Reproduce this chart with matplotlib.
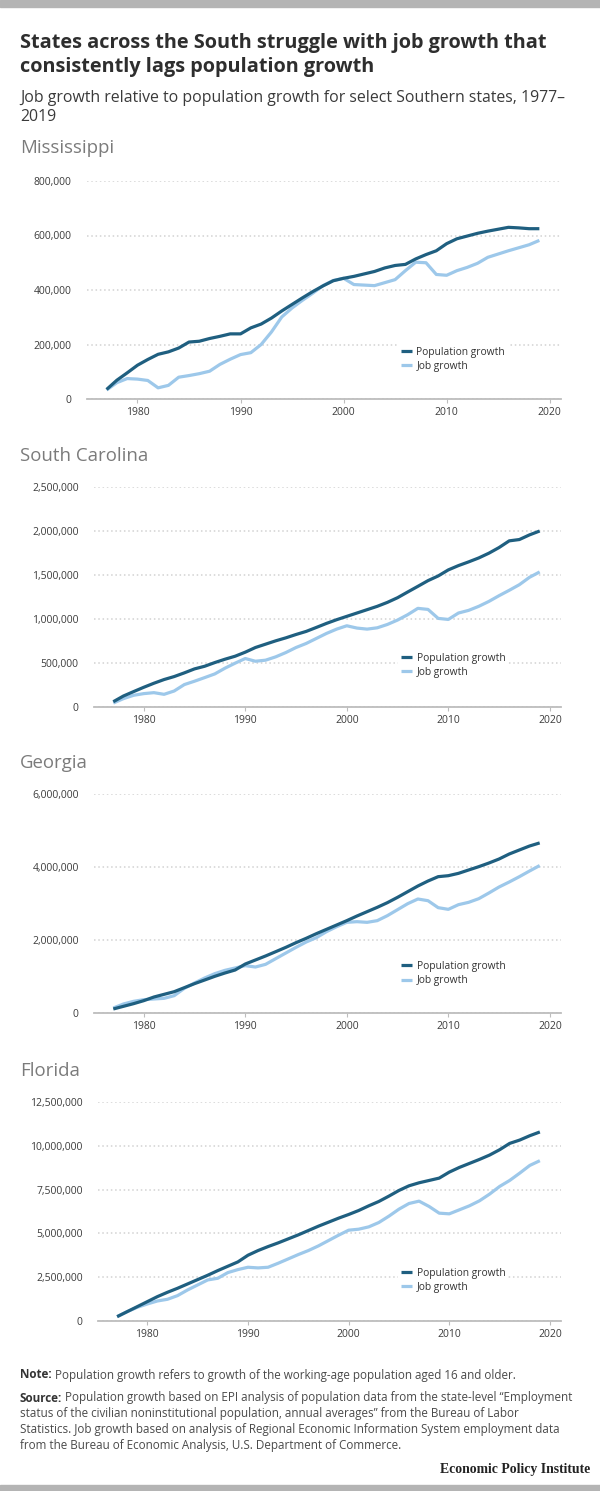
import matplotlib.pyplot as plt
from matplotlib.ticker import FuncFormatter
from matplotlib.patches import Rectangle

plt.rcParams['font.family'] = ['Open Sans', 'DejaVu Sans']

# ---- data ----
years = list(range(1977, 2020))

ms_population = [35, 69, 96, 124, 145, 164, 173, 187, 209, 212, 222, 230, 239, 239, 261,
                 275, 297, 323, 347, 371, 394, 415, 434, 443, 450, 459, 468, 481, 490, 494,
                 514, 530, 544, 570, 588, 598, 608, 616, 623, 630, 628, 625, 625]
ms_jobs = [33, 60, 75, 73, 68, 41, 50, 80, 86, 93, 102, 127, 146, 163, 170,
           200, 246, 301, 334, 362, 388, 416, 435, 443, 420, 418, 416, 427, 438, 471,
           502, 500, 457, 454, 471, 483, 498, 520, 532, 544, 555, 566, 582]

sc_population = [60, 125, 175, 224, 270, 312, 346, 388, 433, 463, 505, 543, 577, 623, 676,
                 714, 752, 786, 824, 859, 904, 950, 992, 1030, 1068, 1106, 1144, 1189, 1242, 1307,
                 1371, 1436, 1489, 1558, 1607, 1649, 1694, 1748, 1812, 1888, 1903, 1956, 2000]
sc_jobs = [45, 95, 133, 152, 163, 144, 182, 255, 293, 334, 376, 441, 498, 551, 520,
           532, 570, 619, 676, 722, 779, 836, 885, 923, 897, 885, 900, 938, 988, 1049,
           1121, 1109, 1007, 995, 1068, 1098, 1144, 1200, 1265, 1326, 1390, 1474, 1535]

ga_population = [110, 183, 256, 338, 438, 511, 584, 694, 804, 904, 1005, 1096, 1178, 1342, 1452,
                 1562, 1680, 1799, 1927, 2046, 2173, 2292, 2411, 2530, 2657, 2776, 2895, 3023, 3169, 3324,
                 3479, 3616, 3735, 3762, 3826, 3918, 4009, 4109, 4219, 4356, 4466, 4575, 4660]
ga_jobs = [137, 247, 320, 365, 384, 402, 475, 676, 822, 959, 1078, 1169, 1233, 1297, 1260,
           1333, 1489, 1644, 1799, 1945, 2064, 2228, 2365, 2484, 2502, 2484, 2530, 2667, 2831, 2995,
           3123, 3077, 2886, 2840, 2968, 3032, 3132, 3288, 3452, 3589, 3735, 3890, 4040]

fl_population = [248, 534, 819, 1105, 1391, 1639, 1867, 2115, 2363, 2611, 2877, 3125, 3373, 3754, 4021,
                 4249, 4459, 4688, 4916, 5164, 5412, 5640, 5869, 6079, 6307, 6574, 6822, 7127, 7451, 7717,
                 7889, 8022, 8156, 8498, 8765, 8994, 9223, 9470, 9775, 10137, 10328, 10576, 10790]
fl_jobs = [248, 534, 781, 972, 1143, 1239, 1448, 1772, 2058, 2344, 2439, 2763, 2934, 3068, 3030,
           3068, 3297, 3544, 3792, 4021, 4287, 4592, 4897, 5183, 5240, 5373, 5621, 5983, 6383, 6707,
           6841, 6536, 6155, 6117, 6345, 6574, 6860, 7241, 7679, 8022, 8441, 8880, 9150]

state_names = ['Mississippi', 'South Carolina', 'Georgia', 'Florida']
ms_ticks = [0, 200000, 400000, 600000, 800000]
sc_ticks = [0, 500000, 1000000, 1500000, 2000000, 2500000]
ga_ticks = [0, 2000000, 4000000, 6000000]
fl_ticks = [0, 2500000, 5000000, 7500000, 10000000, 12500000]
year_ticks = [1980, 1990, 2000, 2010, 2020]

POP_COLOR = '#1f5f80'
JOB_COLOR = '#9dc8ea'
GRID_COLOR = '#d2d2d2'

W, H = 600, 1491
fig = plt.figure(figsize=(W / 100, H / 100), dpi=100)
renderer = fig.canvas.get_renderer()


def box(left, top, right, bottom):
    """Pixel box (origin top-left) -> figure fraction rect."""
    return [left / W, 1 - bottom / H, (right - left) / W, (bottom - top) / H]


def fy(y):
    return 1 - y / H


def fit_size(s, width_px, **kw):
    """Font size that makes string s about width_px wide."""
    t = fig.text(0, 0, s, fontsize=10, **kw)
    w = t.get_window_extent(renderer).width
    t.remove()
    return 10 * width_px / w


# gray bands top and bottom
fig.patches.append(Rectangle((0, fy(7)), 1, 7 / H, transform=fig.transFigure,
                             color='#b4b4b4', zorder=0))
fig.patches.append(Rectangle((0, 0), 1, 6 / H, transform=fig.transFigure,
                             color='#b4b4b4', zorder=0))

# title / subtitle
title1 = 'States across the South struggle with job growth that'
ts = fit_size(title1, 530, fontweight='bold')
fig.text(20 / W, fy(43), title1, fontsize=ts, fontweight='bold', color='#2e2e2e', va='center')
fig.text(20 / W, fy(67), 'consistently lags population growth',
         fontsize=ts, fontweight='bold', color='#2e2e2e', va='center')
sub1 = 'Job growth relative to population growth for select Southern states, 1977\u2013'
ss = fit_size(sub1, 546)
fig.text(20 / W, fy(98), sub1, fontsize=ss, color='#3a3a3a', va='center')
fig.text(20 / W, fy(117), '2019', fontsize=ss, color='#3a3a3a', va='center')

state_size = fit_size('South Carolina', 128)

# layout per panel: axes box in px, title y, legend anchor
panels = [
    (ms_population, ms_jobs, ms_ticks, (87, 181, 561, 399), 148, (0.656, 0.181)),
    (sc_population, sc_jobs, sc_ticks, (94, 487, 561, 707), 456, (0.651, 0.189)),
    (ga_population, ga_jobs, ga_ticks, (94, 794, 561, 1013), 763, (0.651, 0.18)),
    (fl_population, fl_jobs, fl_ticks, (98, 1102, 561, 1321), 1071, (0.648, 0.185)),
]

fmt = FuncFormatter(lambda v, p: f'{v:,.0f}')

for name, (pop, job, yticks, rect, title_y, leg) in zip(state_names, panels):
    fig.text(20 / W, fy(title_y), name, fontsize=state_size, color='#7b7b7b', va='center')
    ax = fig.add_axes(box(*rect))
    ax.plot(years, [v * 1000 for v in pop], color=POP_COLOR, lw=2.3,
            label='Population growth', solid_capstyle='butt', zorder=3)
    ax.plot(years, [v * 1000 for v in job], color=JOB_COLOR, lw=2.3,
            label='Job growth', solid_capstyle='butt', zorder=2)
    ax.set_xlim(1975.1, 2021.1)
    ax.set_ylim(0, yticks[-1])
    ax.set_yticks(yticks)
    ax.set_xticks(year_ticks)
    ax.yaxis.set_major_formatter(fmt)
    ax.grid(axis='y', color=GRID_COLOR, lw=1.1, linestyle=(0, (1, 1.8)))
    ax.set_axisbelow(True)
    for s in ['top', 'right', 'left']:
        ax.spines[s].set_visible(False)
    ax.spines['bottom'].set_color('#bdbdbd')
    ax.spines['bottom'].set_linewidth(1.3)
    ax.tick_params(axis='y', length=0, pad=11, labelsize=7.5, labelcolor='#3c3c3c')
    ax.tick_params(axis='x', length=3, width=0.8, color='#bdbdbd', pad=3,
                   labelsize=7.5, labelcolor='#3c3c3c')
    lg = ax.legend(loc='center left', bbox_to_anchor=leg, frameon=True, fontsize=7.4,
                   handlelength=1.05, handletextpad=0.45, labelspacing=0.3,
                   borderpad=0.3, borderaxespad=0, fancybox=False)
    lg.get_frame().set_facecolor('white')
    lg.get_frame().set_edgecolor('none')
    lg.get_frame().set_alpha(1)
    for t in lg.get_texts():
        t.set_color('#333333')
    for h in lg.get_lines():
        h.set_linewidth(2.3)

# footer with bold lead-ins
note_rest = 'Population growth refers to growth of the working-age population aged 16 and older.'
fs = fit_size('Note: ' + note_rest, 493)


def lead_line(y, bold, rest):
    b = fig.text(20 / W, fy(y), bold, fontsize=fs, fontweight='bold', color='#333333', va='center')
    bb = b.get_window_extent(renderer)
    fig.text(bb.x1 / W + 3 / W, fy(y), rest, fontsize=fs, color='#4a4a4a', va='center')


lead_line(1375, 'Note:', note_rest)
lead_line(1398, 'Source:', 'Population growth based on EPI analysis of population data from the state-level \u201cEmployment')
source_rest = [
    'status of the civilian noninstitutional population, annual averages\u201d from the Bureau of Labor',
    'Statistics. Job growth based on analysis of Regional Economic Information System employment data',
    'from the Bureau of Economic Analysis, U.S. Department of Commerce.',
]
for i, line in enumerate(source_rest):
    fig.text(20 / W, fy(1414 + 16 * i), line, fontsize=fs, color='#4a4a4a', va='center')

epi_kw = dict(fontweight='bold', family=['Liberation Serif', 'DejaVu Serif'])
fig.text(590 / W, fy(1470), 'Economic Policy Institute',
         fontsize=fit_size('Economic Policy Institute', 151, **epi_kw),
         color='#222222', ha='right', va='center', **epi_kw)

fig.savefig('out.png', dpi=100)
